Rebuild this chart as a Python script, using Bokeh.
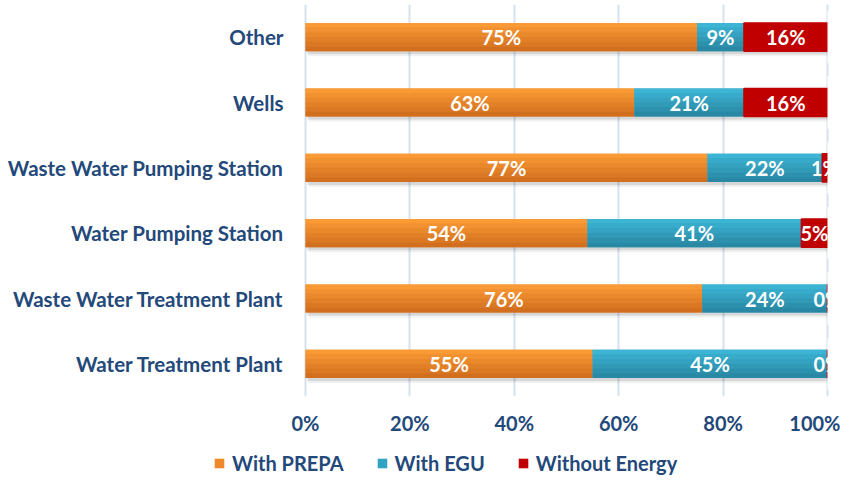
from bokeh.plotting import figure
from bokeh.layouts import column
from bokeh.models import Range1d, FixedTicker, PrintfTickFormatter, Legend, LegendItem
from bokeh.core.properties import value
from bokeh.embed import file_html
from bokeh.resources import INLINE

categories = ["Other", "Wells", "Waste Water Pumping Station", "Water Pumping Station",
              "Waste Water Treatment Plant", "Water Treatment Plant"]
with_prepa = [75, 63, 77, 54, 76, 55]
with_egu = [9, 21, 22, 41, 24, 45]
without_energy = [16, 16, 1, 5, 0, 0]
series_names = ["With PREPA", "With EGU", "Without Energy"]
x_ticks = [0, 20, 40, 60, 80, 100]

FONT = "Lato"
LABEL_COLOR = "#23487a"
# (top colour, bottom colour) for a vertical gradient
grads = [("#fa9a35", "#d26f1f"), ("#3cb4d4", "#2988a3"), ("#c00000", "#c00000")]
legend_colors = ["#ee8a2c", "#33a3c2", "#c00000"]

ypos = [len(categories) - 1 - i for i in range(len(categories))]

# the frame spans the whole width so the category labels can sit left of 0%
PLOT_LEFT, PLOT_W, FRAME_W = 305, 522, 840
ppu = PLOT_W / 100.0
p = figure(width=FRAME_W, height=430, frame_width=FRAME_W, frame_height=392,
           output_backend="svg", toolbar_location=None, y_axis_location=None,
           x_range=Range1d(-PLOT_LEFT / ppu, (FRAME_W - PLOT_LEFT) / ppu),
           y_range=Range1d(-0.5, 5.5),
           min_border_left=0, min_border_right=0, min_border_top=4, min_border_bottom=0)
p.outline_line_color = None
p.background_fill_color = "white"

def mix(c1, c2, t):
    a = [int(c1[i:i+2], 16) for i in (1, 3, 5)]
    b = [int(c2[i:i+2], 16) for i in (1, 3, 5)]
    return "#%02x%02x%02x" % tuple(round(a[k] + (b[k] - a[k]) * t) for k in range(3))

H = 0.43
N = 6
values = [with_prepa, with_egu, without_energy]
lefts = [0] * len(categories)
px = 1 / 65.33
totals = [a + b + c for a, b, c in zip(with_prepa, with_egu, without_energy)]
# soft shadow under the bars
p.hbar(y=[y - 3 * px for y in ypos], left=[0.3] * len(ypos), right=totals, height=H,
       fill_color="#000000", fill_alpha=0.10, line_color=None)
p.hbar(y=[y - 5 * px for y in ypos], left=[0.6] * len(ypos), right=totals, height=H,
       fill_color="#000000", fill_alpha=0.06, line_color=None)

label_x, label_y, label_t = [], [], []
for s, vals in enumerate(values):
    rights = [l + v for l, v in zip(lefts, vals)]
    top, bot = grads[s]
    base = p.hbar(y=ypos, left=lefts, right=rights, height=H,
                  fill_color=mix(top, bot, 0.5), line_color=None)
    if s == 2:
        base.glyph.line_color = "#c00000"
        base.glyph.line_width = 1.5
    for k in range(N):
        off = H / 2 - (k + 0.5) * H / N
        p.hbar(y=[y + off for y in ypos], left=lefts, right=rights, height=H / N + 0.002,
               fill_color=mix(top, bot, k / (N - 1)), line_color=None)
    for l, v, y in zip(lefts, vals, ypos):
        label_x.append(l + v / 2)
        label_y.append(y)
        label_t.append(f"{v}%")
    lefts = rights

p.text(x=label_x, y=label_y, text=label_t, text_color="white", text_font=value(FONT),
       text_font_style="bold", text_font_size="20px", text_align="center",
       text_baseline="middle")
# white mask right of 100% so labels of tiny end segments are cut like the original
p.hbar(y=ypos, left=totals, right=[(FRAME_W - PLOT_LEFT) / ppu] * len(ypos), height=0.8,
       fill_color="white", line_color=None)

# category labels
p.text(x=[0] * len(categories), y=ypos, text=categories, x_offset=-22,
       text_color=LABEL_COLOR, text_font=value(FONT), text_font_style="bold",
       text_font_size="20.5px", text_align="right", text_baseline="middle")

p.xaxis.ticker = FixedTicker(ticks=x_ticks)
p.xaxis.formatter = PrintfTickFormatter(format="%d%%")
p.xaxis.axis_line_color = None
p.xaxis.major_tick_line_color = None
p.xaxis.minor_tick_line_color = None
p.xaxis.major_label_text_font = FONT
p.xaxis.major_label_text_font_style = "bold"
p.xaxis.major_label_text_font_size = "20px"
p.xaxis.major_label_text_color = LABEL_COLOR
p.xaxis.major_label_standoff = 8
p.xgrid.grid_line_color = "#d6e1f0"
p.xgrid.grid_line_width = 2
p.ygrid.grid_line_color = None
p.xgrid.level = "underlay"

# legend strip below the chart
lg = figure(width=FRAME_W, height=38, output_backend="svg", toolbar_location=None,
            x_axis_location=None, y_axis_location=None,
            x_range=Range1d(0, 100), y_range=Range1d(-0.5, 5.5),
            min_border_left=0, min_border_right=0, min_border_top=0, min_border_bottom=0)
lg.grid.visible = False
lg.outline_line_color = None
items = []
lefts = [0] * len(categories)
for s, vals in enumerate(values):
    rights = [l + v for l, v in zip(lefts, vals)]
    r = lg.hbar(y=ypos, left=lefts, right=rights, height=H,
                fill_color=legend_colors[s], line_color=None, visible=False)
    items.append(LegendItem(label=series_names[s], renderers=[r]))
    lefts = rights

legend = Legend(items=items, orientation="horizontal", location=(213, 0),
                border_line_color=None, background_fill_alpha=0, padding=0, margin=0,
                spacing=32, label_standoff=7, glyph_width=12, glyph_height=12,
                label_text_font=FONT, label_text_font_style="bold",
                label_text_font_size="20px", label_text_color=LABEL_COLOR)
lg.add_layout(legend, "center")

layout = column(p, lg, spacing=0)
open("out.html", "w").write(file_html(layout, INLINE))
